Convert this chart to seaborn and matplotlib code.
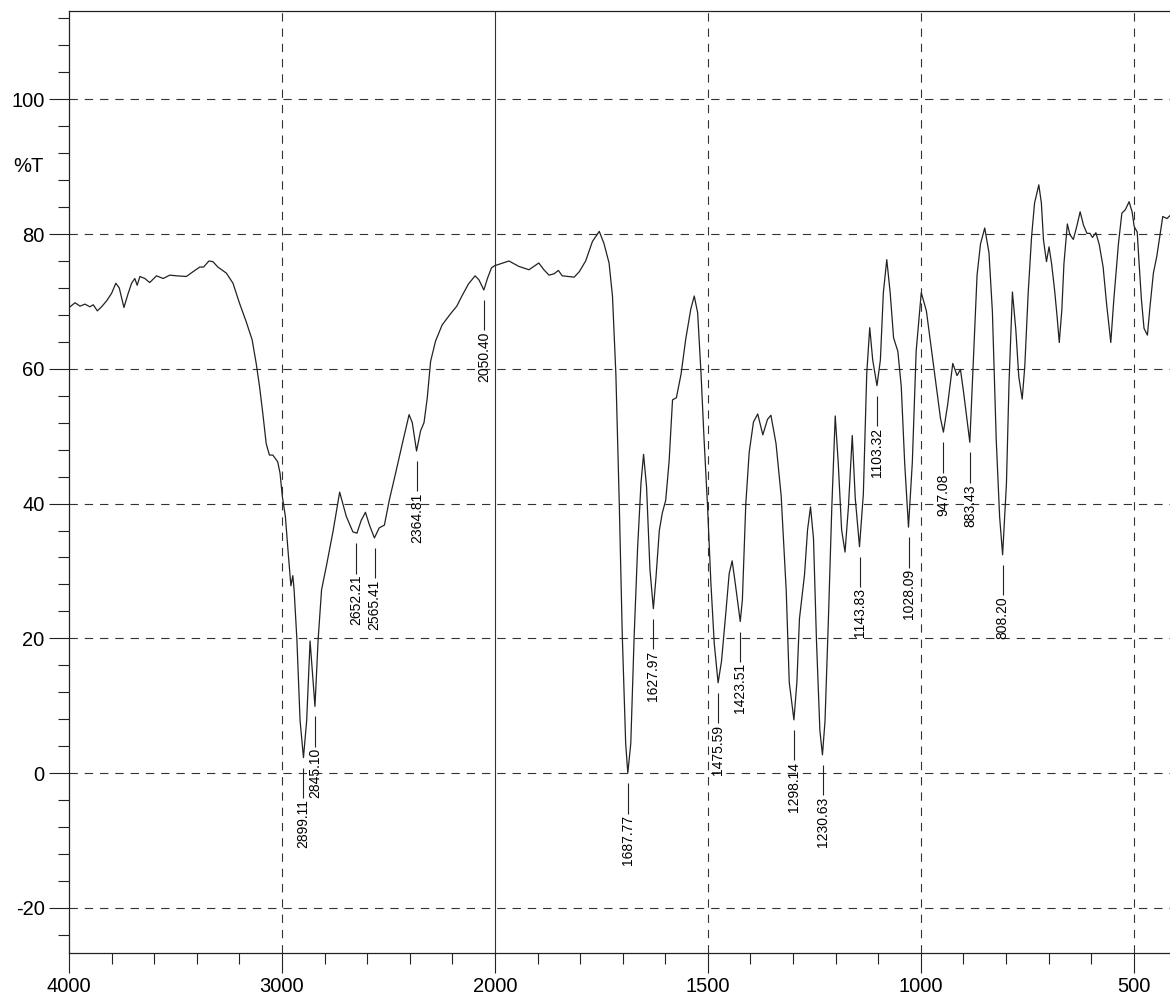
import numpy as np
import pandas as pd
import matplotlib
matplotlib.use("Agg")
import matplotlib.pyplot as plt
import seaborn as sns
from matplotlib.ticker import FixedLocator, NullFormatter

# ---------------- data ----------------
wavenumber = [
    3995, 3972, 3948, 3925, 3902, 3886, 3867, 3847, 3823, 3800, 3780, 3764, 3742,
    3722, 3706, 3691, 3680, 3667, 3644, 3621, 3589, 3558, 3527, 3496, 3449, 3418,
    3386, 3368, 3343, 3324, 3301, 3261, 3230, 3199, 3168, 3140, 3121, 3105, 3090,
    3074, 3059, 3043, 3020, 3009, 2998, 2984, 2969, 2958, 2949, 2943, 2930, 2915,
    2899, 2884, 2868, 2857, 2845, 2830, 2814, 2791, 2760, 2729, 2698, 2667, 2648,
    2628, 2608, 2589, 2566, 2543, 2519, 2496, 2465, 2434, 2403, 2388, 2368, 2349,
    2333, 2318, 2302, 2279, 2248, 2210, 2179, 2155, 2124, 2093, 2075, 2052, 2034,
    2016, 2001,
    1967, 1944, 1920, 1897, 1885, 1873, 1861, 1851, 1842, 1814, 1802, 1787, 1771,
    1755, 1744, 1732, 1724, 1716, 1708, 1701, 1693, 1688, 1681, 1673, 1665, 1657,
    1651, 1644, 1636, 1628, 1622, 1614, 1607, 1599, 1591, 1583, 1574, 1563, 1552,
    1540, 1532, 1524, 1516, 1509, 1501, 1493, 1485, 1476, 1468, 1458, 1450, 1443,
    1436, 1424, 1419, 1411, 1403, 1393, 1383, 1371, 1360, 1352, 1340, 1328, 1316,
    1309, 1298, 1291, 1285, 1273, 1266, 1259, 1252, 1245, 1237, 1231, 1225, 1217,
    1209, 1201, 1194, 1186, 1178, 1170, 1161, 1154, 1144, 1135, 1127, 1120, 1113,
    1103, 1095, 1088, 1080, 1072, 1064, 1054, 1046, 1038, 1029, 1020, 1011, 999,
    987, 976, 964, 954, 947, 937, 925, 915, 907, 900, 885, 878, 868, 860, 850, 840,
    832, 823, 815, 808, 799, 793, 785, 777, 770, 762, 756, 748, 740, 733, 723, 717,
    712, 705, 699, 693, 686, 680, 675, 669, 664, 656, 650, 642, 634, 626, 618, 610,
    603, 597, 589, 581, 572, 564, 554, 547, 536, 528, 520, 511, 504, 499, 492, 488,
    482, 476, 468, 462, 454, 446, 438, 432, 422, 414,
]
transmittance = [
    69.2, 69.8, 69.3, 69.6, 69.2, 69.5, 68.6, 69.2, 70.1, 71.2, 72.7, 72.0, 69.1,
    71.2, 72.7, 73.4, 72.4, 73.7, 73.4, 72.8, 73.8, 73.4, 73.9, 73.8, 73.7, 74.4,
    75.1, 75.1, 76.0, 75.9, 75.1, 74.2, 72.7, 69.7, 67.0, 64.3, 60.8, 57.3, 53.4,
    48.9, 47.2, 47.2, 46.2, 44.5, 41.0, 38.1, 32.0, 27.8, 29.3, 27.2, 19.9, 7.8,
    2.3, 7.8, 19.6, 15.0, 9.9, 19.9, 27.2, 30.8, 35.9, 41.7, 38.1, 35.8, 35.6,
    37.5, 38.7, 36.8, 34.9, 36.4, 36.8, 40.5, 44.7, 49.0, 53.2, 52.0, 47.8, 50.8,
    52.0, 55.6, 61.1, 64.1, 66.5, 68.1, 69.3, 70.8, 72.6, 73.8, 73.2, 71.7, 73.5,
    75.0, 75.3,
    76.0, 75.2, 74.7, 75.7, 74.7, 73.9, 74.1, 74.6, 73.8, 73.6, 74.4, 76.0, 78.9,
    80.4, 78.6, 75.7, 70.8, 59.2, 39.9, 20.5, 4.4, 0.0, 4.4, 20.5, 33.4, 43.1,
    47.3, 42.5, 30.2, 24.4, 28.9, 36.0, 38.6, 40.5, 46.3, 55.4, 55.7, 59.2, 64.4,
    68.9, 70.8, 68.3, 59.2, 49.6, 39.9, 28.3, 19.2, 13.4, 16.6, 23.7, 29.6, 31.5,
    28.3, 22.5, 25.7, 39.9, 47.6, 52.1, 53.3, 50.2, 52.5, 53.1, 48.9, 41.2, 27.0,
    13.5, 7.9, 13.5, 22.9, 29.5, 36.1, 39.5, 34.8, 19.6, 6.3, 2.7, 7.7, 22.9,
    39.5, 53.0, 46.1, 36.1, 32.8, 39.5, 50.1, 40.8, 33.6, 41.4, 59.3, 66.1, 61.3,
    57.5, 61.3, 71.3, 76.2, 71.3, 64.6, 62.6, 57.4, 46.1, 36.5, 46.1, 62.6, 71.3,
    68.6, 63.3, 57.4, 52.7, 50.6, 54.7, 60.8, 59.0, 59.9, 56.7, 49.1, 59.3, 73.9,
    78.5, 80.9, 77.2, 68.5, 49.5, 38.0, 32.4, 43.0, 57.8, 71.4, 65.8, 58.8, 55.5,
    60.3, 71.2, 79.6, 84.6, 87.3, 84.6, 79.1, 75.9, 78.1, 75.6, 71.7, 67.7, 63.9,
    68.7, 75.6, 81.5, 79.9, 79.2, 81.1, 83.3, 81.3, 80.1, 80.1, 79.5, 80.2, 78.4,
    75.1, 69.7, 63.9, 70.2, 78.6, 83.1, 83.6, 84.8, 83.3, 81.1, 80.3, 76.1, 70.2,
    66.0, 65.0, 69.2, 74.2, 76.7, 80.1, 82.6, 82.3, 82.8,
]

peak_wavenumber = [2899.11, 2845.10, 2652.21, 2565.41, 2364.81, 2050.40,
                   1687.77, 1627.97, 1475.59, 1423.51, 1298.14, 1230.63,
                   1143.83, 1103.32, 1028.09, 947.08, 883.43, 808.20]
peak_transmittance = [2.3, 9.9, 35.6, 34.9, 47.8, 71.7,
                      0.0, 24.4, 13.4, 22.5, 7.9, 2.7,
                      33.6, 57.5, 36.5, 50.6, 49.1, 32.4]

x_major_ticks = [4000, 3000, 2000, 1500, 1000, 500]
x_minor_ticks = [3800, 3600, 3400, 3200, 2800, 2600, 2400, 2200,
                 1900, 1800, 1700, 1600, 1400, 1300, 1200, 1100,
                 900, 800, 700, 600]
y_major_ticks = [-20, 0, 20, 40, 60, 80, 100]
y_label = "%T"

# ---------------- style ----------------
sns.set_style("ticks")
plt.rcParams['font.family'] = ['Liberation Sans', 'DejaVu Sans']
plt.rcParams['lines.scale_dashes'] = False

W, H = 1170, 996
fig = plt.figure(figsize=(W / 100, H / 100), dpi=100)
left_px, right_px, top_px, bottom_px = 69, 1170, 11, 953
ax = fig.add_axes([left_px / W, 1 - bottom_px / H,
                   (right_px - left_px) / W, (bottom_px - top_px) / H])

ink = "#222222"
df = pd.DataFrame({"wavenumber": wavenumber, "T": transmittance})
sns.lineplot(data=df, x="wavenumber", y="T", sort=False, estimator=None,
             color=ink, lw=0.9, ax=ax, legend=False)


# split scale: 4000-2000 compressed, 2000-400 expanded x2
def fwd(w):
    w = np.asarray(w, dtype=float)
    return np.where(w >= 2000, w, 2 * w - 2000)


def inv(u):
    u = np.asarray(u, dtype=float)
    return np.where(u >= 2000, u, (u + 2000) / 2)


ax.set_xscale('function', functions=(fwd, inv))
ax.set_xlim(4000, 415)
ax.set_ylim(-26.7, 113.1)

# grid
dash = (0, (6, 5))
for y in y_major_ticks:
    ax.axhline(y, color="#333333", lw=0.8, ls=dash, zorder=0)
for x in x_major_ticks[1:]:
    if x == 2000:
        ax.axvline(x, color="#333333", lw=0.8, ls="-", zorder=0)
    else:
        ax.axvline(x, color="#333333", lw=0.8, ls=dash, zorder=0)

# ticks
ax.xaxis.set_major_locator(FixedLocator(x_major_ticks))
ax.xaxis.set_minor_locator(FixedLocator(x_minor_ticks))
ax.xaxis.set_minor_formatter(NullFormatter())
ax.set_xticklabels([str(v) for v in x_major_ticks])
ax.yaxis.set_major_locator(FixedLocator(y_major_ticks))
y_minor = [v for v in range(-24, 113, 4) if v not in y_major_ticks]
ax.yaxis.set_minor_locator(FixedLocator(y_minor))
ax.set_yticklabels([str(v) for v in y_major_ticks])
ax.tick_params(axis='both', which='major', length=14.5, width=0.8,
               direction='out', color=ink, labelsize=14.5, pad=3,
               labelcolor="black")
ax.tick_params(axis='both', which='minor', length=8, width=0.8,
               direction='out', color=ink)
ax.set_xlabel("")
ax.set_ylabel("")

for side in ["left", "top", "bottom"]:
    ax.spines[side].set_color(ink)
    ax.spines[side].set_linewidth(0.9)
ax.spines["right"].set_visible(False)

# %T label next to the y axis
ax.annotate(y_label, xy=(0, 90), xycoords=ax.get_yaxis_transform(),
            xytext=(-18.5, 0), textcoords='offset points',
            ha='right', va='center', fontsize=14.5, color="black")

# peak annotations
gap, stem = 1.5, 4.5
for w, t in zip(peak_wavenumber, peak_transmittance):
    top = t - gap
    bottom = top - stem
    ax.vlines(w, bottom, top, color=ink, lw=0.8)
    ax.text(w, bottom - 0.2, f"{w:.2f}", rotation=90, ha='center', va='top',
            fontsize=10, color="black")

fig.savefig("out.png", dpi=100)
